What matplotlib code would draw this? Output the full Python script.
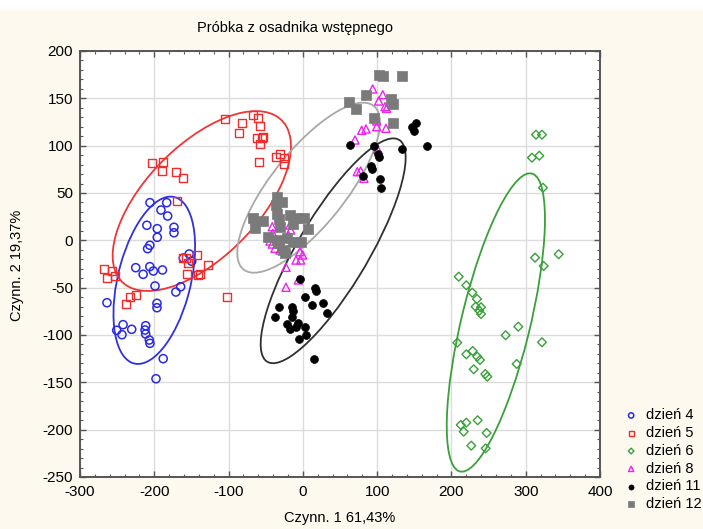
import numpy as np
import matplotlib
matplotlib.use("Agg")
import matplotlib.pyplot as plt
from matplotlib.patches import Ellipse, Rectangle
from matplotlib.ticker import MultipleLocator

plt.rcParams['font.family'] = ['Liberation Sans', 'DejaVu Sans']
plt.rcParams['axes.unicode_minus'] = False

# --- scores of samples on the first two factors, per day ---
d4_x = [-205.8, -183.3, -191, -182, -210, -196, -173.5, -173.5, -196, -206, -209, -153, -161,
        -149.6, -225, -206, -201.3, -189, -215, -199, -164.5, -171, -263.7, -196.4, -196.4,
        -242, -250.6, -243.5, -230.4, -211.6, -212.5, -211.6, -206.7, -205.8, -188, -197.7]
d4_y = [39.8, 39.8, 32, 25.7, 15.9, 12.3, 13.8, 8, 3.2, -5.2, -8.8, -14.4, -18.7,
        -22.1, -28.9, -27.8, -32.4, -31.3, -35.9, -48.2, -49, -54.6, -65.9, -66.5, -71.2,
        -89.1, -95, -99.7, -94, -90.2, -94.7, -98.9, -105.3, -108.8, -125, -146.2]

d5_x = [-203.5, -187.9, -189.2, -170.8, -161.8, -169, -104.8, -81.9, -86.4, -66.7, -60.4, -57.7,
        -62.1, -55.4, -54, -57.7, -59, -36.6, -30.4, -25.8, -25, -161.8, -157.3, -142.9, -155,
        -155.6, -141.6, -138.5, -127.7, -102.5, -267.7, -256.5, -263.3, -252.9, -225, -232.7, -237.7]
d5_y = [81.4, 83.1, 73.6, 72.5, 66.2, 41.9, 128.2, 123.6, 113.4, 132.1, 129.5, 121.1,
        107.8, 108.4, 108.8, 101.8, 82.4, 87.7, 91.2, 86.7, 80.3, -18.3, -18.3, -15.5, -23.9,
        -35.9, -36.9, -35.9, -26, -60.2, -30.6, -32.4, -39.5, -37.4, -57.7, -59.5, -67.2]

d6_x = [313.8, 321.9, 308.4, 318.3, 323.2, 312.5, 344.4, 324.2, 209.8, 220, 228.1, 234.4, 232.6,
        239.8, 237.5, 239.8, 290, 273, 207.9, 321.9, 220, 228.6, 234.8, 238.4, 230, 287.8,
        245.6, 248.3, 212.5, 220, 216.5, 235.3, 247.4, 226.7, 246.1]
d6_y = [111.6, 111.6, 87.3, 89.4, 55.6, -18.3, -14.7, -27.1, -38.4, -47.5, -55.3, -62, -70.1,
        -70.7, -74.3, -77.8, -91.2, -100.3, -108.1, -107.7, -120.4, -116.9, -122.9, -126.4, -136.2, -130.6,
        -141.2, -144, -195, -192.6, -202.1, -190.1, -203.5, -216.9, -219.7]

d8_x = [94, 107.5, 102.1, 110.6, 112.8, 99.4, 99.4, 111.9, 79.2, 85, 70.2, 100.7, 73.3, 77.8, 82.3,
        -41.2, -17.3, -16.4, -40.6, -44.2, -41.2, -37.5, -30.8, -12.9, -19.6, -3.9, -0.2, -9.2,
        -2.9, -22.7, -6.1, -22.7]
d8_y = [159.9, 153.8, 147.2, 141.2, 139.5, 126.1, 120, 118.3, 116.2, 117.6, 106, 96.2, 72.5, 73.2, 65.5,
        14.4, 16.2, 10.9, 7.4, -0.7, -3.9, -8.4, -10.2, -1.4, 5.6, -12, -15.5, -20.8,
        -20.8, -28.5, -41.9, -49.6]

d11_x = [152.3, 146.5, 149.6, 167.5, 133, 63.4, 95.7, 100.7, 102.5, 92.1, 92.6, 81.3, 103.4, 105.2,
         -3.9, 16.3, 17.3, 2.9, 26.7, 12.3, 32.1, -31.7, -37.9, -15, -13.7, -14.2, -21, -6.1,
         -9.7, 2.5, -17.3, 4.2, -4.8, 15]
d11_y = [123.6, 120, 115.8, 99.7, 96.5, 101, 99.7, 91.2, 88.3, 78.5, 75, 68, 65.1, 55.3,
         -40.8, -50, -53.2, -59.5, -66.5, -68.6, -76.4, -70.7, -80.7, -70.1, -74.3, -80.7, -88.4, -87.6,
         -91.2, -91.9, -94, -100, -103.9, -125.7]

d12_x = [102.5, 108.3, 133, 85, 62.5, 71.5, 118.6, 121.7, 95.7, 120.9,
         -35.2, -28.5, -36.6, -66.7, -53.3, -64.4, -35.2, -31.7, -17.3, -8.3, 1.9, 7.3, -12.9,
         -30.8, -46.5, -35.2, -21.8, -12.9, -2.5, -26.3, -24.1, -31.7]
d12_y = [174.6, 173.9, 173.9, 153.5, 145.8, 138.7, 149, 143.7, 128.9, 123.6,
         45.5, 40.8, 37.3, 23.3, 20.7, 12.7, 27.5, 22.2, 26.8, 23.3, 23.3, 11.7, 16.9,
         14.4, 3.8, 0.4, 2.2, -1.4, -1.4, -10.2, -13.7, -3.1]

# --- ellipse parameters: centre, semi-axes and rotation (degrees) ---
ell_labels = ['dzień 4', 'dzień 5', 'dzień 6', 'dzień 12', 'dzień 11']
ell_cx = [-200, -136, 259.8, 7.75, 40.8]
ell_cy = [-42.2, 41.5, -86.8, 55.6, -11.05]
ell_a = [92.2, 138.4, 164.7, 123.6, 147.3]
ell_b = [48.3, 65.4, 45.6, 44.9, 44.0]
ell_angle = [70.5, 34.4, 72.4, 42.5, 51.7]
ell_colors = ['#3030e0', '#f03535', '#3aa03a', '#a8a8a8', '#303030']

series = [
    ('dzień 4', d4_x, d4_y, dict(marker='o', facecolors='none', edgecolors='#2a2ae6', s=34, linewidths=1.1)),
    ('dzień 5', d5_x, d5_y, dict(marker='s', facecolors='none', edgecolors='#f02c2c', s=32, linewidths=1.0)),
    ('dzień 6', d6_x, d6_y, dict(marker='D', facecolors='none', edgecolors='#3aa03a', s=20, linewidths=1.0)),
    ('dzień 8', d8_x, d8_y, dict(marker='^', facecolors='none', edgecolors='#f020f0', s=34, linewidths=1.0)),
    ('dzień 11', d11_x, d11_y, dict(marker='o', facecolors='black', edgecolors='black', s=32, linewidths=0.5)),
    ('dzień 12', d12_x, d12_y, dict(marker='s', facecolors='#7a7a7a', edgecolors='#7a7a7a', s=44, linewidths=0.5)),
]

fig = plt.figure(figsize=(7.03, 5.29), dpi=100, facecolor='#fdf9ef')
fig.patches.append(Rectangle((0, 1 - 10 / 529), 1, 10 / 529, transform=fig.transFigure,
                             facecolor='white', edgecolor='none', zorder=0))
ax = fig.add_axes([80 / 703, 1 - 477 / 529, 520 / 703, 426 / 529])
ax.set_facecolor('white')

for cx, cy, a, b, ang, col in zip(ell_cx, ell_cy, ell_a, ell_b, ell_angle, ell_colors):
    ax.add_patch(Ellipse((cx, cy), 2 * a, 2 * b, angle=ang, fill=False,
                         edgecolor=col, linewidth=1.3, zorder=2))

handles = []
for label, xs, ys, kw in series:
    h = ax.scatter(xs, ys, label=label, zorder=3, **kw)
    handles.append(h)

ax.set_xlim(-300, 400)
ax.set_ylim(-250, 200)
ax.xaxis.set_major_locator(MultipleLocator(100))
ax.yaxis.set_major_locator(MultipleLocator(50))
ax.xaxis.set_minor_locator(MultipleLocator(20))
ax.yaxis.set_minor_locator(MultipleLocator(10))
ax.grid(True, which='major', color='#dcdcdc', linewidth=1.0, zorder=0)
ax.set_axisbelow(True)
ax.tick_params(which='both', direction='in', top=True, right=True, color='#555555')
ax.tick_params(which='major', length=4, width=1, labelsize=11)
ax.tick_params(axis='x', which='major', pad=6)
ax.tick_params(axis='y', which='major', pad=5)
ax.tick_params(which='minor', length=2, width=0.8)
for sp in ax.spines.values():
    sp.set_color('#555555')
    sp.set_linewidth(1.4)

fig.text(295 / 703, 1 - 28 / 529, 'Próbka z osadnika wstępnego', ha='center', va='center', fontsize=10.5)
fig.text(340 / 703, 1 - 518 / 529, 'Czynn. 1 61,43%', ha='center', va='center', fontsize=10.5)
fig.text(17 / 703, 1 - 265 / 529, 'Czynn. 2 19,37%', ha='center', va='center', rotation=90, fontsize=10.5)

fig.legend(handles=handles, loc='upper left', bbox_to_anchor=(618 / 703, 1 - 401 / 529),
           frameon=False, fontsize=10.5, handlelength=0.8, handletextpad=0.6,
           labelspacing=0.26, markerscale=0.65, borderpad=0)

fig.savefig('out.png', dpi=100, facecolor=fig.get_facecolor())
